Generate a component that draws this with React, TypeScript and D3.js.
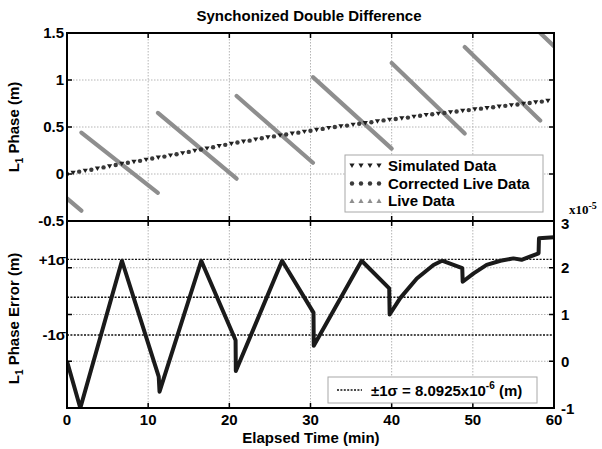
import React from "react";
import * as d3 from "d3";

// ---------- data ----------
const xTicks = [0, 10, 20, 30, 40, 50, 60];
const topYTicks = [1.5, 1, 0.5, 0, -0.5];
const botYTicks = [3, 2, 1, 0, -1];

// Simulated data (triangle-down markers)
const simTimes = [0.75, 2.25, 3.75, 5.25, 6.75, 8.25, 9.75, 11.25, 12.75, 14.25, 15.75, 17.25, 18.75, 20.25, 21.75, 23.25, 24.75, 26.25, 27.75, 29.25, 30.75, 32.25, 33.75, 35.25, 36.75, 38.25, 39.75, 41.25, 42.75, 44.25, 45.75, 47.25, 48.75, 50.25, 51.75, 53.25, 54.75, 56.25, 57.75, 59.25];
const simValues = [0.012, 0.035, 0.058, 0.082, 0.108, 0.13, 0.152, 0.175, 0.198, 0.222, 0.248, 0.272, 0.298, 0.322, 0.345, 0.368, 0.39, 0.41, 0.43, 0.45, 0.47, 0.49, 0.508, 0.525, 0.542, 0.56, 0.578, 0.592, 0.61, 0.628, 0.642, 0.658, 0.672, 0.688, 0.702, 0.718, 0.732, 0.748, 0.762, 0.778];

// Corrected live data (circle markers)
const corrTimes = [0, 1.5, 3, 4.5, 6, 7.5, 9, 10.5, 12, 13.5, 15, 16.5, 18, 19.5, 21, 22.5, 24, 25.5, 27, 28.5, 30, 31.5, 33, 34.5, 36, 37.5, 39, 40.5, 42, 43.5, 45, 46.5, 48, 49.5, 51, 52.5, 54, 55.5, 57, 58.5];
const corrValues = [0.0, 0.025, 0.045, 0.07, 0.095, 0.12, 0.14, 0.165, 0.185, 0.21, 0.235, 0.26, 0.285, 0.31, 0.335, 0.355, 0.38, 0.4, 0.42, 0.44, 0.46, 0.48, 0.5, 0.515, 0.535, 0.55, 0.57, 0.585, 0.6, 0.62, 0.635, 0.65, 0.665, 0.68, 0.695, 0.71, 0.725, 0.74, 0.755, 0.77];

// Live data segments (between cycle slips)
const liveStartT = [0, 1.77, 11.2, 20.9, 30.3, 40, 49, 58.3];
const liveStartV = [-0.26, 0.44, 0.65, 0.83, 1.03, 1.18, 1.35, 1.5];
const liveEndT = [1.77, 11.2, 20.9, 30.3, 40, 49, 58.3, 60];
const liveEndV = [-0.39, -0.2, -0.05, 0.12, 0.27, 0.43, 0.57, 1.36];

// Phase error (x1e-5 m)
const errTimes = [0, 1.64, 6.77, 11.3, 11.4, 16.54, 20.77, 20.8, 26.5, 30.37, 30.4, 36.3, 39.7, 39.75, 41.05, 43.1, 45.15, 46.2, 48.7, 48.75, 50.1, 51.7, 53.4, 55, 56, 58.1, 58.15, 60];
const errValues = [0.0, -1.0, 2.15, -0.33, -0.65, 2.15, 0.45, -0.21, 2.15, 1.04, 0.33, 2.15, 1.56, 1.0, 1.35, 1.77, 2.06, 2.15, 1.99, 1.7, 1.88, 2.06, 2.15, 2.2, 2.17, 2.31, 2.63, 2.65];

const errMean = 1.37;
const errSigma = 0.809;

// ---------- layout ----------
const X0 = 67, X1 = 554;
const TOP0 = 33, MID = 221, BOT1 = 408;
const FONT = "'Liberation Sans', Arial, Helvetica, sans-serif";
const FS = 15;

const x = d3.scaleLinear().domain([0, 60]).range([X0, X1]);
const yTop = d3.scaleLinear().domain([-0.5, 1.5]).range([MID, TOP0]);
const yBot = d3.scaleLinear().domain([-1, 3]).range([BOT1, MID]);

const triDown = "M-2.6,-2 L2.6,-2 L0,2.4 Z";
const triUp = "M-2.6,2 L2.6,2 L0,-2.4 Z";

export default function App() {
  const errLine = d3.line<number>().x((_, i) => x(errTimes[i])).y((d) => yBot(d));
  const gridStyle = { stroke: "#b5b5b5", strokeWidth: 1, strokeDasharray: "1.5,1.5" };
  const tickLen = 5;
  const innerX = [10, 20, 30, 40, 50];

  return (
    <svg width={602} height={449} style={{ position: "absolute", left: 0, top: 0, background: "#fff" }} fontFamily={FONT}>
      <defs>
        <clipPath id="clipTop"><rect x={X0} y={TOP0} width={X1 - X0} height={MID - TOP0} /></clipPath>
        <clipPath id="clipBot"><rect x={X0} y={MID} width={X1 - X0} height={BOT1 - MID} /></clipPath>
      </defs>
      <rect x={0} y={0} width={602} height={449} fill="#fff" />

      {/* Title */}
      <text x={309} y={21} textAnchor="middle" fontSize={FS} fontWeight="bold">Synchonized Double Difference</text>

      {/* ---------------- TOP PANEL ---------------- */}
      {innerX.map((t) => (
        <line key={"tgx" + t} x1={x(t)} x2={x(t)} y1={TOP0} y2={MID} {...gridStyle} />
      ))}
      {[1, 0.5, 0].map((v) => (
        <line key={"tgy" + v} x1={X0} x2={X1} y1={yTop(v)} y2={yTop(v)} {...gridStyle} />
      ))}
      <g clipPath="url(#clipTop)">
        {liveStartT.map((t, i) => (
          <line key={"live" + i} x1={x(t)} y1={yTop(liveStartV[i])} x2={x(liveEndT[i])} y2={yTop(liveEndV[i])}
            stroke="#8e8e8e" strokeWidth={4.2} strokeLinecap="round" />
        ))}
        {corrTimes.map((t, i) => (
          <circle key={"c" + i} cx={x(t)} cy={yTop(corrValues[i])} r={2.2} fill="#3a3a3a" />
        ))}
        {simTimes.map((t, i) => (
          <path key={"s" + i} d={triDown} transform={`translate(${x(t)},${yTop(simValues[i])})`} fill="#1e1e1e" />
        ))}
      </g>
      {innerX.map((t) => (
        <g key={"ttx" + t}>
          <line x1={x(t)} x2={x(t)} y1={TOP0} y2={TOP0 + tickLen} stroke="#000" strokeWidth={1.5} />
          <line x1={x(t)} x2={x(t)} y1={MID} y2={MID - tickLen} stroke="#000" strokeWidth={1.5} />
        </g>
      ))}
      {[1, 0.5, 0].map((v) => (
        <g key={"tty" + v}>
          <line x1={X0} x2={X0 + tickLen} y1={yTop(v)} y2={yTop(v)} stroke="#000" strokeWidth={1.5} />
          <line x1={X1} x2={X1 - tickLen} y1={yTop(v)} y2={yTop(v)} stroke="#000" strokeWidth={1.5} />
        </g>
      ))}
      {topYTicks.map((v) => (
        <text key={"tyl" + v} x={X0 - 3} y={yTop(v)} dy="0.36em" textAnchor="end" fontSize={FS} fontWeight="bold">{v}</text>
      ))}
      <rect x={X0} y={TOP0} width={X1 - X0} height={MID - TOP0} fill="none" stroke="#000" strokeWidth={2} />
      <text transform={`translate(19,${(TOP0 + MID) / 2}) rotate(-90)`} textAnchor="middle" fontSize={FS} fontWeight="bold">
        L<tspan fontSize={10} dy={4}>1</tspan><tspan dy={-4}> Phase (m)</tspan>
      </text>

      {/* top legend */}
      <g>
        <rect x={345} y={155} width={198} height={57} fill="#fff" stroke="#a8a8a8" strokeWidth={1} />
        {[0, 1, 2, 3].map((k) => (
          <path key={"l1" + k} d={triDown} transform={`translate(${352 + k * 9},${165.5})`} fill="#1e1e1e" />
        ))}
        {[0, 1, 2, 3].map((k) => (
          <circle key={"l2" + k} cx={352 + k * 9} cy={183.5} r={2.2} fill="#3a3a3a" />
        ))}
        {[0, 1, 2, 3].map((k) => (
          <path key={"l3" + k} d={triUp} transform={`translate(${352 + k * 9},${201})`} fill="#8e8e8e" />
        ))}
        <text x={388} y={165.5} dy="0.36em" fontSize={FS} fontWeight="bold">Simulated Data</text>
        <text x={388} y={183.5} dy="0.36em" fontSize={FS} fontWeight="bold">Corrected Live Data</text>
        <text x={388} y={201} dy="0.36em" fontSize={FS} fontWeight="bold">Live Data</text>
      </g>

      {/* ---------------- BOTTOM PANEL ---------------- */}
      {innerX.map((t) => (
        <line key={"bgx" + t} x1={x(t)} x2={x(t)} y1={MID} y2={BOT1} {...gridStyle} />
      ))}
      {[2, 1, 0].map((v) => (
        <line key={"bgy" + v} x1={X0} x2={X1} y1={yBot(v)} y2={yBot(v)} {...gridStyle} />
      ))}
      {[errMean + errSigma, errMean, errMean - errSigma].map((v, i) => (
        <line key={"sig" + i} x1={X0} x2={X1} y1={yBot(v)} y2={yBot(v)} stroke="#111" strokeWidth={1.4} strokeDasharray="2,1.4" />
      ))}
      <g clipPath="url(#clipBot)">
        <path d={errLine(errValues) || ""} fill="none" stroke="#1a1a1a" strokeWidth={4} strokeLinejoin="round" />
      </g>
      {innerX.map((t) => (
        <g key={"btx" + t}>
          <line x1={x(t)} x2={x(t)} y1={MID} y2={MID + tickLen} stroke="#000" strokeWidth={1.5} />
          <line x1={x(t)} x2={x(t)} y1={BOT1} y2={BOT1 - tickLen} stroke="#000" strokeWidth={1.5} />
        </g>
      ))}
      {[2, 1, 0].map((v) => (
        <g key={"bty" + v}>
          <line x1={X0} x2={X0 + tickLen} y1={yBot(v)} y2={yBot(v)} stroke="#000" strokeWidth={1.5} />
          <line x1={X1} x2={X1 - tickLen} y1={yBot(v)} y2={yBot(v)} stroke="#000" strokeWidth={1.5} />
        </g>
      ))}
      <rect x={X0} y={MID} width={X1 - X0} height={BOT1 - MID} fill="none" stroke="#000" strokeWidth={2} />

      {/* left sigma labels */}
      <text x={X0 - 1} y={yBot(errMean + errSigma)} dy="0.36em" textAnchor="end" fontSize={FS} fontWeight="bold">+1σ</text>
      <text x={X0 - 1} y={yBot(errMean - errSigma)} dy="0.36em" textAnchor="end" fontSize={FS} fontWeight="bold">-1σ</text>

      {/* right axis labels */}
      {botYTicks.map((v) => (
        <text key={"byl" + v} x={X1 + 7} y={yBot(v) + (v === 3 ? 3 : v === -1 ? 1 : 0)} dy="0.36em" textAnchor="start" fontSize={FS} fontWeight="bold">{v}</text>
      ))}
      <text x={569} y={214} fontSize={13} fontWeight="bold" fontFamily="'Liberation Serif', 'Times New Roman', serif">
        x10<tspan fontSize={10} dy={-5}>-5</tspan>
      </text>

      {/* x tick labels */}
      {xTicks.map((t) => (
        <text key={"xl" + t} x={x(t)} y={425} textAnchor="middle" fontSize={FS} fontWeight="bold">{t}</text>
      ))}
      <text x={311} y={443} textAnchor="middle" fontSize={FS} fontWeight="bold">Elapsed Time (min)</text>
      <text transform={`translate(19,${(MID + BOT1) / 2 + 4}) rotate(-90)`} textAnchor="middle" fontSize={FS} fontWeight="bold">
        L<tspan fontSize={10} dy={4}>1</tspan><tspan dy={-4}> Phase Error (m)</tspan>
      </text>

      {/* bottom legend */}
      <g>
        <rect x={328} y={377} width={209} height={26} fill="#fff" stroke="#a8a8a8" strokeWidth={1} />
        <line x1={337} x2={362} y1={390} y2={390} stroke="#111" strokeWidth={1.4} strokeDasharray="2,1.4" />
        <text x={371} y={391} dy="0.36em" fontSize={FS} fontWeight="bold">
          ±1σ = 8.0925x10<tspan fontSize={10} dy={-7}>-6</tspan><tspan dy={7}> (m)</tspan>
        </text>
      </g>
    </svg>
  );
}
